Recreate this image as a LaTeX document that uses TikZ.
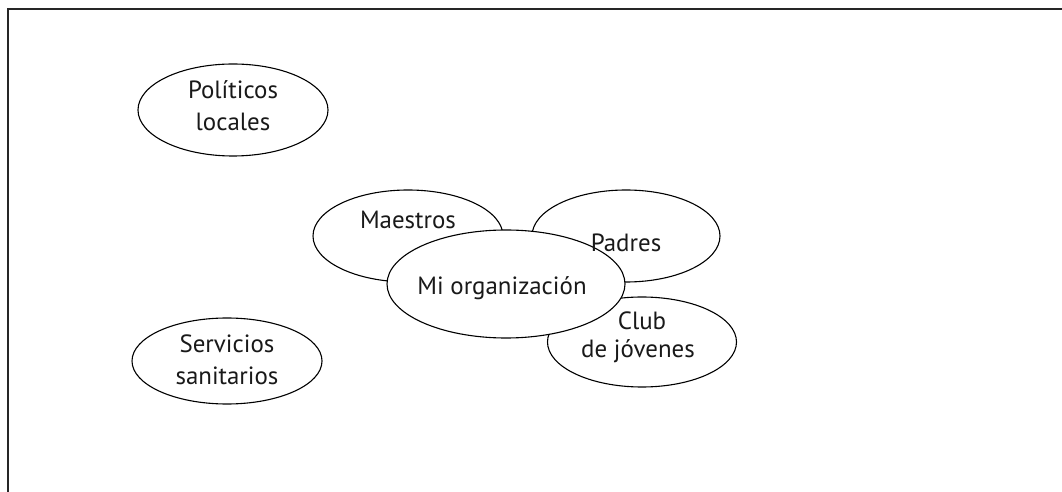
\documentclass[tikz,border=0pt]{standalone}
\usepackage{fontspec}
\setmainfont{PT Sans}
\usetikzlibrary{shapes.geometric}
\tikzset{
  oval/.style={draw=black, line width=1.1bp, fill=white, ellipse, inner sep=0pt, minimum width=#1},
  lbl/.style={font=\fontsize{25}{30}\selectfont, align=center, inner sep=0pt, text=black!90},
  frame/.style={line width=1.4bp, draw=black!85}
}
\begin{document}
\begin{tikzpicture}[x=1bp,y=-1bp]
\useasboundingbox (0,0) rectangle (1062,492);
\draw[frame] (8,492) -- (8,9) -- (1062,9);
% outer ellipses
\node[oval=190bp, minimum height=92bp] (politicos) at (233,110) {};
\node[oval=190bp, minimum height=86bp] (servicios) at (227,361) {};
\node[oval=190bp, minimum height=92bp] (maestros) at (408,236) {};
\node[oval=188bp, minimum height=92bp] (padres) at (626,236) {};
\node[oval=189bp, minimum height=90bp] (club) at (642,342) {};
\node[oval=238bp, minimum height=108bp] (miorg) at (506,284) {};
% labels
\node[lbl, anchor=base] (tpol1) at (233,99) {Políticos};
\node[lbl, anchor=base] (tpol2) at (233,131) {locales};
\node[lbl, anchor=base] (tser1) at (227,353) {Servicios};
\node[lbl, anchor=base] (tser2) at (227,385) {sanitarios};
\node[lbl, anchor=base] (tmae) at (408,229) {Maestros};
\node[lbl, anchor=base] (tpad) at (626,252) {Padres};
\node[lbl, anchor=base] (tmio) at (502,295) {Mi organización};
\node[lbl, anchor=base] (tclu1) at (642,330) {Club};
\node[lbl, anchor=base] (tclu2) at (638,358) {de jóvenes};
\end{tikzpicture}
\end{document}
